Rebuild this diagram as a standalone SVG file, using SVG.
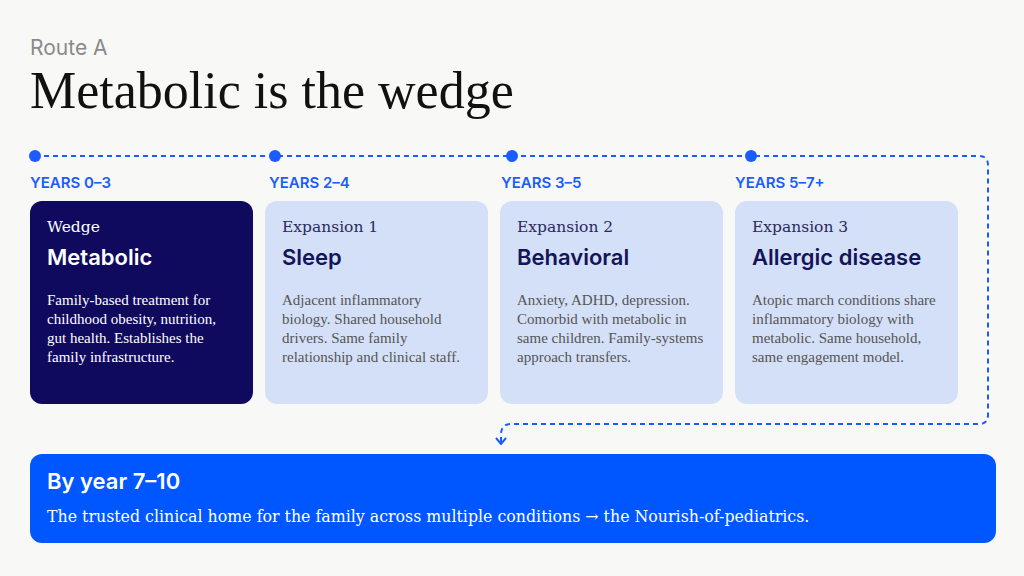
<svg xmlns="http://www.w3.org/2000/svg" width="1024" height="576" viewBox="0 0 1024 576">
<defs>
<style>
.sans{font-family:Inter,"Noto Sans","Liberation Sans",sans-serif}
.serif{font-family:"DejaVu Serif","Liberation Serif",serif}
.lserif{font-family:"Liberation Serif","DejaVu Serif",serif}
.yr{font-family:Inter,"Liberation Sans",sans-serif;font-size:15px;font-weight:600;fill:#1a5cff}
.kicker{font-family:"DejaVu Serif","Liberation Serif",serif;font-size:15.5px}
.head{font-family:Inter,"Liberation Sans",sans-serif;font-size:22px;font-weight:600}
.body{font-family:"Liberation Serif","DejaVu Serif",serif;font-size:15px}
.dash{fill:none;stroke:#1a5cff;stroke-width:2;stroke-dasharray:5 4}
.dot{fill:#1a5cff}
.light rect{fill:#d4e0f7}
.light .kicker{fill:#2a2a5e}
.light .head{fill:#14145a}
.light .body{fill:#555555}
</style>
<marker id="chev" viewBox="0 0 12 12" refX="8" refY="6" markerWidth="12" markerHeight="12" markerUnits="userSpaceOnUse" orient="auto">
<path d="M2 1 L8 6 L2 11" fill="none" stroke="#1a5cff" stroke-width="2"/>
</marker>
</defs>
<rect width="1024" height="576" fill="#f8f8f7"/>
<text x="30" y="55" class="sans" font-size="21" fill="#8a8a8a">Route A</text>
<text x="30" y="108" class="lserif" font-size="52" fill="#111111">Metabolic is the wedge</text>

<g id="connectors">
<path class="dash" d="M35 156 H979 Q988 156 988 165 V415 Q988 424 979 424 H511 Q502 424 501 433 V444" marker-end="url(#chev)"/>
<circle class="dot" cx="35" cy="156" r="6"/>
<circle class="dot" cx="275" cy="156" r="6"/>
<circle class="dot" cx="512" cy="156" r="6"/>
<circle class="dot" cx="751" cy="156" r="6"/>
</g>

<g id="node-wedge">
<text x="30" y="188" class="yr">YEARS 0–3</text>
<rect x="30" y="201" width="223" height="203" rx="12" fill="#0f0a5e"/>
<text x="47" y="232" class="kicker" fill="#ffffff">Wedge</text>
<text x="47" y="265" class="head" fill="#ffffff">Metabolic</text>
<text class="body" fill="#ffffff"><tspan x="47" y="305">Family-based treatment for</tspan><tspan x="47" y="324">childhood obesity, nutrition,</tspan><tspan x="47" y="343">gut health. Establishes the</tspan><tspan x="47" y="362">family infrastructure.</tspan></text>
</g>

<g id="node-sleep" class="light">
<text x="269" y="188" class="yr">YEARS 2–4</text>
<rect x="265" y="201" width="223" height="203" rx="12"/>
<text x="282" y="232" class="kicker">Expansion 1</text>
<text x="282" y="265" class="head">Sleep</text>
<text class="body"><tspan x="282" y="305">Adjacent inflammatory</tspan><tspan x="282" y="324">biology. Shared household</tspan><tspan x="282" y="343">drivers. Same family</tspan><tspan x="282" y="362">relationship and clinical staff.</tspan></text>
</g>

<g id="node-behavioral" class="light">
<text x="501" y="188" class="yr">YEARS 3–5</text>
<rect x="500" y="201" width="223" height="203" rx="12"/>
<text x="517" y="232" class="kicker">Expansion 2</text>
<text x="517" y="265" class="head">Behavioral</text>
<text class="body"><tspan x="517" y="305">Anxiety, ADHD, depression.</tspan><tspan x="517" y="324">Comorbid with metabolic in</tspan><tspan x="517" y="343">same children. Family-systems</tspan><tspan x="517" y="362">approach transfers.</tspan></text>
</g>

<g id="node-allergic" class="light">
<text x="735" y="188" class="yr">YEARS 5–7+</text>
<rect x="735" y="201" width="223" height="203" rx="12"/>
<text x="752" y="232" class="kicker">Expansion 3</text>
<text x="752" y="265" class="head">Allergic disease</text>
<text class="body"><tspan x="752" y="305">Atopic march conditions share</tspan><tspan x="752" y="324">inflammatory biology with</tspan><tspan x="752" y="343">metabolic. Same household,</tspan><tspan x="752" y="362">same engagement model.</tspan></text>
</g>

<g id="node-outcome">
<rect x="30" y="454" width="966" height="89" rx="12" fill="#0057ff"/>
<text x="47" y="489" class="head" fill="#ffffff">By year 7–10</text>
<text x="47" y="522" class="serif" font-size="15.8" fill="#ffffff">The trusted clinical home for the family across multiple conditions → the Nourish-of-pediatrics.</text>
</g>
</svg>
